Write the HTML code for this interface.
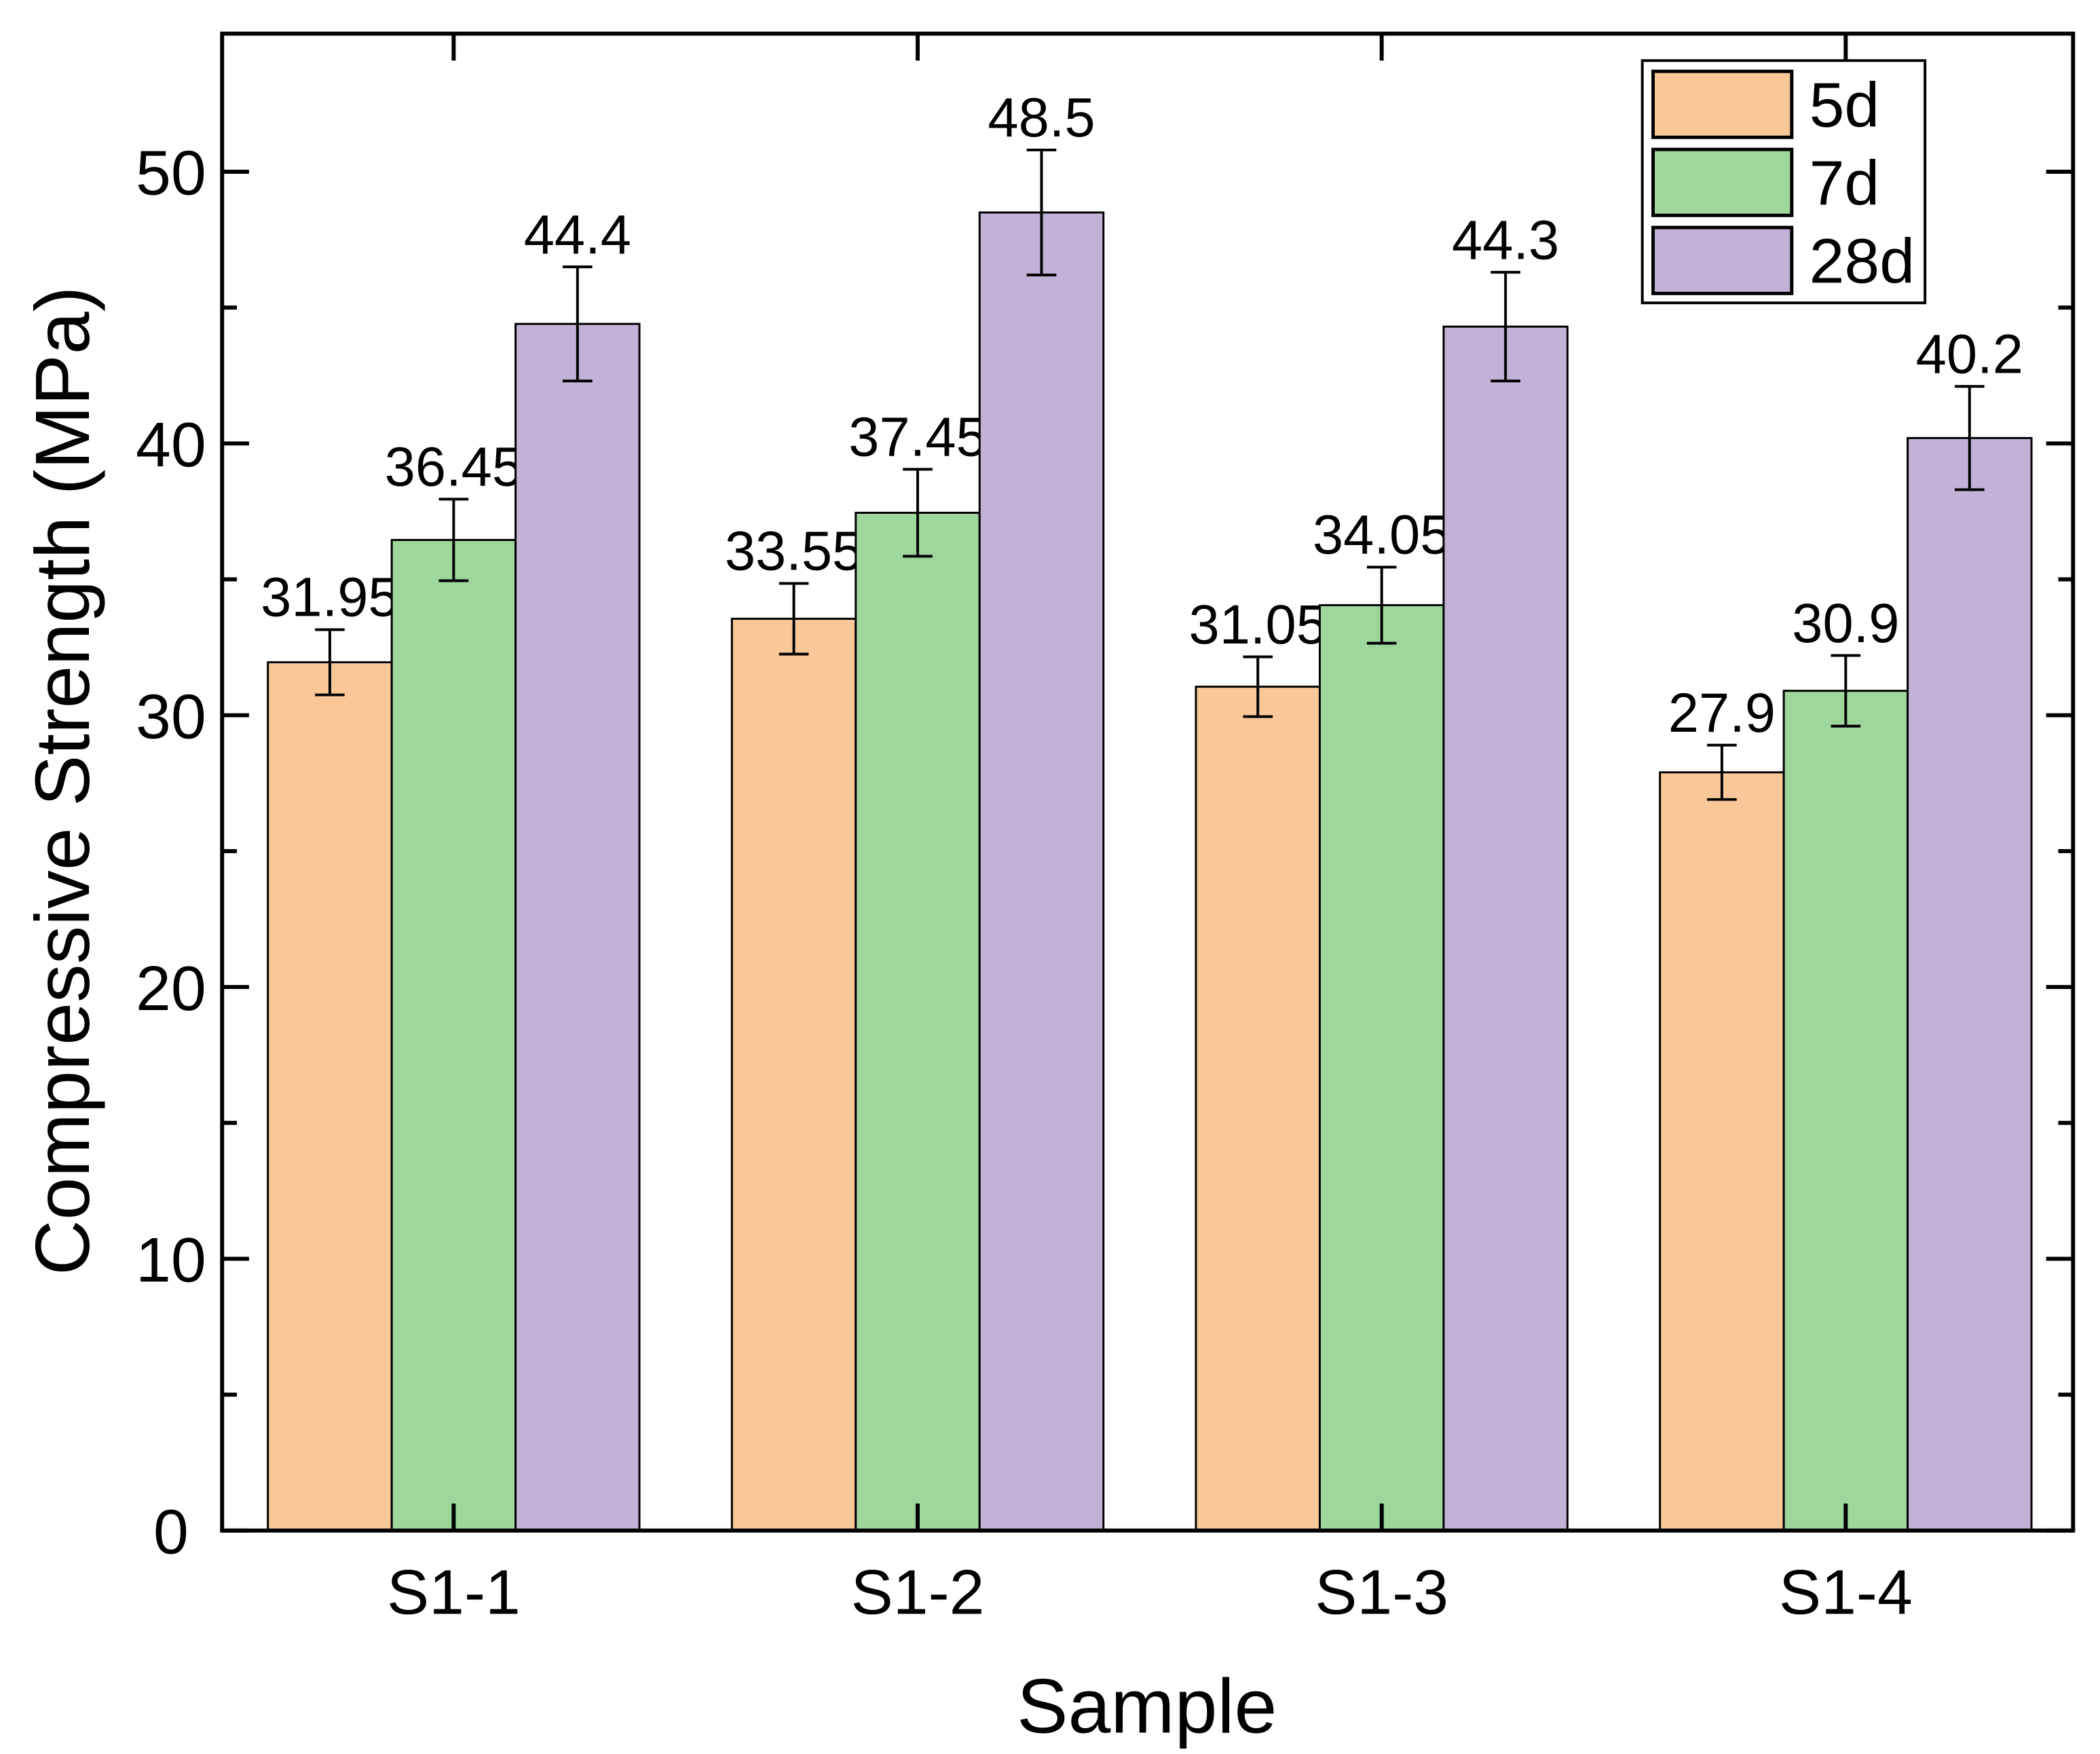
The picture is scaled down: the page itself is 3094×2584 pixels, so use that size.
<!DOCTYPE html>
<html><head><meta charset="utf-8">
<style>
html,body{margin:0;padding:0;background:#fff;}
svg{display:block;}
text{font-family:"Liberation Sans",Arial,sans-serif;fill:#000;}
</style></head>
<body>
<svg id="chart" width="3094" height="2584" viewBox="0 0 1560 1303" preserveAspectRatio="none" xmlns="http://www.w3.org/2000/svg">
  <g id="bars"></g>
  <g id="axes"></g>
  <text x="0" y="0" font-size="57" text-anchor="middle" transform="translate(66,580) rotate(-90)">Compressive Strength (MPa)</text>
  <text x="852" y="1287" font-size="57" text-anchor="middle">Sample</text>
  <g>
    <rect x="1220" y="45" width="210" height="180" fill="#fff" stroke="#000" stroke-width="2"/>
    <rect x="1228" y="53" width="103" height="49" fill="#FAC898" stroke="#000" stroke-width="2.5"/>
    <text x="1344" y="94" font-size="47">5d</text>
    <rect x="1228" y="111" width="103" height="49" fill="#9ED79C" stroke="#000" stroke-width="2.5"/>
    <text x="1344" y="152" font-size="47">7d</text>
    <rect x="1228" y="169" width="103" height="49" fill="#C2B2D5" stroke="#000" stroke-width="2.5"/>
    <text x="1344" y="210" font-size="47">28d</text>
  </g>
</svg>
<script>
const categories = ["S1-1","S1-2","S1-3","S1-4"];
const seriesNames = ["5d","7d","28d"];
const values5d = [31.95, 33.55, 31.05, 27.9];
const values7d = [36.45, 37.45, 34.05, 30.9];
const values28d = [44.4, 48.5, 44.3, 40.2];
const err5d = [1.2, 1.3, 1.1, 1.0];
const err7d = [1.5, 1.6, 1.4, 1.3];
const err28d = [2.1, 2.3, 2.0, 1.9];
const labels5d = ["31.95","33.55","31.05","27.9"];
const labels7d = ["36.45","37.45","34.05","30.9"];
const labels28d = ["44.4","48.5","44.3","40.2"];
const yTicks = [0,10,20,30,40,50];
const yMinorTicks = [5,15,25,35,45];

const NS = "http://www.w3.org/2000/svg";
const colors = ["#FAC898","#9ED79C","#C2B2D5"];
const plotL = 165, plotR = 1540, plotT = 25, plotB = 1137;
const yMin = 0, yMax = 55.08;
function yScale(v){ return plotB - (v - yMin) / (yMax - yMin) * (plotB - plotT); }
const groupStart = 337, groupStep = 344.7, barW = 92;
function xCenter(i){ return groupStart + i * groupStep; }

function mk(tag, attrs, parent){
  const el = document.createElementNS(NS, tag);
  for (const k in attrs) el.setAttribute(k, attrs[k]);
  parent.appendChild(el);
  return el;
}
const barsG = document.getElementById('bars');
const axesG = document.getElementById('axes');
const allVals = [values5d, values7d, values28d];
const allErr = [err5d, err7d, err28d];
const allLabels = [labels5d, labels7d, labels28d];

for (let s = 0; s < 3; s++) {
  for (let i = 0; i < categories.length; i++) {
    const cx = xCenter(i) + (s - 1) * barW;
    const v = allVals[s][i];
    const r = mk('rect', {x: cx - barW/2, y: yScale(v), width: barW, height: plotB - yScale(v), fill: colors[s], stroke: '#000', 'stroke-width': 1.5}, barsG);
    
    
    const e = allErr[s][i];
    const yt = yScale(v + e), yb = yScale(v - e);
    const eb = mk('path', {d: `M${cx} ${yt}V${yb}M${cx-11} ${yt}H${cx+11}M${cx-11} ${yb}H${cx+11}`, stroke: '#000', 'stroke-width': 2, fill: 'none'}, barsG);
    
    
    const t = mk('text', {x: cx, y: yt - 10, 'font-size': 41, 'text-anchor': 'middle'}, barsG);
    t.textContent = allLabels[s][i];
    
    
  }
}

const frame = mk('rect', {x: plotL, y: plotT, width: plotR - plotL, height: plotB - plotT, fill: 'none', stroke: '#000', 'stroke-width': 3}, axesG);



yTicks.forEach(v => {
  const y = yScale(v);
  const tk = mk('path', {d: `M${plotL} ${y}H${plotL+20}M${plotR} ${y}H${plotR-20}`, stroke: '#000', 'stroke-width': 3}, axesG);
  
  
  const t = mk('text', {x: 127, y: y + 17, 'font-size': 47, 'text-anchor': 'middle'}, axesG);
  t.textContent = v;
  
  
});
yMinorTicks.forEach(v => {
  const y = yScale(v);
  const tk = mk('path', {d: `M${plotL} ${y}H${plotL+11}M${plotR} ${y}H${plotR-11}`, stroke: '#000', 'stroke-width': 3}, axesG);
  
  
});
categories.forEach((c, i) => {
  const x = xCenter(i);
  const tk = mk('path', {d: `M${x} ${plotB}V${plotB-20}M${x} ${plotT}V${plotT+20}`, stroke: '#000', 'stroke-width': 3}, axesG);
  
  
  const t = mk('text', {x: x, y: 1199, 'font-size': 47, 'text-anchor': 'middle'}, axesG);
  t.textContent = c;
  
  
});
</script>
</body></html>
